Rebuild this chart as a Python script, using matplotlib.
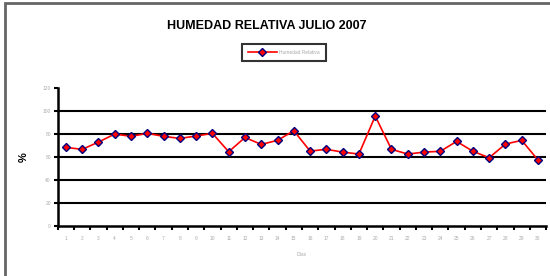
import numpy as np
import matplotlib.pyplot as plt
from matplotlib.patches import Rectangle

# Datos
dias = [str(d) for d in range(1, 31)]
humedad = [68.4, 66.7, 73.0, 80.0, 78.0, 80.6, 78.0, 76.2, 78.3, 80.6,
           64.6, 77.0, 71.0, 74.5, 82.9, 65.2, 66.7, 64.3, 62.6, 95.6,
           66.7, 62.6, 64.3, 65.0, 73.6, 65.0, 59.4, 71.3, 74.5, 57.4]
y_ticks = [0, 20, 40, 60, 80, 100, 120]

plt.rcParams['font.family'] = ['Liberation Sans', 'DejaVu Sans']

fig = plt.figure(figsize=(5.5, 2.76), dpi=100)
ax = fig.add_axes([0.105, 0.181, 0.888, 0.5])

# marco exterior
fig.patches.append(Rectangle((0.009, -0.05), 1.1, 1.04, transform=fig.transFigure,
                             fill=False, edgecolor='#666666', linewidth=2))

x = np.arange(len(dias))
ax.plot(x, humedad, color='red', linewidth=1.2, marker='D', markersize=4.5,
        markerfacecolor='red', markeredgecolor='#000080', markeredgewidth=1.0,
        label='Humedad Relativa', zorder=3)

for v in y_ticks[1:-1]:
    ax.axhline(v, color='black', linewidth=1.5, zorder=1)

ax.set_xlim(-0.5, len(dias) - 0.5)
ax.set_ylim(0, 120)
ax.set_yticks(y_ticks)
ax.set_yticklabels([str(v) for v in y_ticks], fontsize=3.5, color='#aaaaaa')
ax.set_xticks(x)
ax.set_xticklabels(dias, fontsize=3.5, color='#aaaaaa')
ax.set_xticks(np.arange(len(dias) + 1) - 0.5, minor=True)
ax.tick_params(axis='x', which='major', length=0, pad=7)
ax.tick_params(axis='x', which='minor', length=3, width=1.5, direction='out')
ax.tick_params(axis='y', length=3, width=1.5, direction='out', pad=2)

for s in ['top', 'right']:
    ax.spines[s].set_visible(False)
ax.spines['left'].set_linewidth(1.8)
ax.spines['bottom'].set_linewidth(1.8)

ax.set_xlabel('Días', fontsize=3.5, color='#aaaaaa', labelpad=8)
ax.set_ylabel('%', fontsize=8, fontweight='bold', labelpad=10)

fig.text(0.485, 0.905, 'HUMEDAD RELATIVA JULIO 2007', ha='center', va='center',
         fontsize=9, fontweight='bold')

leg = fig.legend(loc='center', bbox_to_anchor=(0.516, 0.81), fontsize=3.5,
                 frameon=True, fancybox=False, edgecolor='black',
                 handlelength=6, borderpad=1.2, handletextpad=0.5)
leg.get_frame().set_linewidth(1.5)
for t in leg.get_texts():
    t.set_color('#aaaaaa')

plt.savefig('out.png', dpi=100)
